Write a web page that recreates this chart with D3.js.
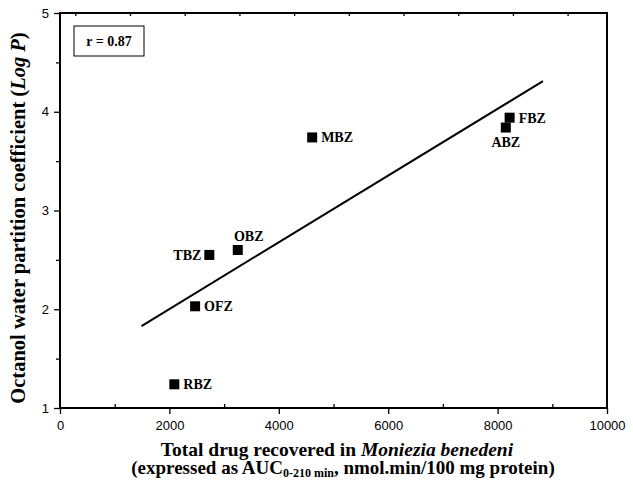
<!DOCTYPE html>
<html lang="en">
<head>
    <meta charset="UTF-8">
    <title>Log P vs drug recovered</title>

    <script src="https://d3js.org/d3.v7.min.js"></script>

    <style>
        body {
            margin: 0;
            background: #fff;
        }

        .tick text {
            font-family: "Liberation Sans", Arial, sans-serif;
            font-size: 13px;
            fill: #000;
        }

        .lbl, .title, .rbox {
            font-family: "Liberation Serif", "Times New Roman", serif;
            font-weight: bold;
            fill: #000;
        }
    </style>

    <script>

        const DRUGS = ["RBZ", "OFZ", "TBZ", "OBZ", "MBZ", "FBZ", "ABZ"];
        const RECOVERED = [2090, 2470, 2730, 3250, 4610, 8220, 8150];
        const LOG_P = [1.24, 2.03, 2.55, 2.60, 3.74, 3.94, 3.84];

        // regression line ends
        const FIT_X = [1490, 8830];
        const FIT_Y = [1.83, 4.31];

        const X_TICKS = [0, 2000, 4000, 6000, 8000, 10000];
        const X_MINOR = [1000, 3000, 5000, 7000, 9000];
        const Y_TICKS = [1, 2, 3, 4, 5];
        const Y_MINOR = [1.5, 2.5, 3.5, 4.5];
        const TOP_MARKS = [280, 1280, 2280, 3280, 4280, 5280, 6280, 7280, 8280, 9280];

        const R_TEXT = "r = 0.87";

        document.addEventListener("DOMContentLoaded", () => makeGraph());

        function makeGraph() {

            const width = 547;
            const height = 395;
            const margins = {top: 13, right: 26, left: 60, bottom: 73};

            // where each label sits next to its square
            const placement = {RBZ: "right", OFZ: "right", TBZ: "left", OBZ: "top", MBZ: "right", FBZ: "right", ABZ: "bottom"};

            let svg = d3.select("svg")
                .attr("width", width + margins.left + margins.right)
                .attr("height", height + margins.top + margins.bottom);

            const g = svg.append("g").attr("transform", "translate(" + margins.left + "," + margins.top + ")");

            const x = d3.scaleLinear().domain([0, 10000]).range([0, width]);
            const y = d3.scaleLinear().domain([1, 5]).range([height, 0]);

            // minor ticks
            g.append("g").attr("transform", "translate(0," + height + ")")
                .call(d3.axisBottom(x).tickValues(X_MINOR).tickSize(-4).tickFormat(""))
                .call(a => a.select(".domain").remove());
            g.append("g")
                .call(d3.axisLeft(y).tickValues(Y_MINOR).tickSize(4).tickFormat(""))
                .call(a => a.select(".domain").remove());
            g.append("g")
                .call(d3.axisTop(x).tickValues(TOP_MARKS).tickSize(-3).tickFormat(""))
                .call(a => a.select(".domain").remove());

            // major axes
            g.append("g").attr("transform", "translate(0," + height + ")")
                .call(d3.axisBottom(x).tickValues(X_TICKS).tickSize(6).tickPadding(7).tickFormat(d3.format("d")))
                .call(a => a.select(".domain").remove());
            g.append("g")
                .call(d3.axisLeft(y).tickValues(Y_TICKS).tickSize(6).tickPadding(5).tickFormat(d3.format("d")))
                .call(a => a.select(".domain").remove());

            g.selectAll(".tick line").attr("stroke", "#000").attr("stroke-width", 1.3);

            // frame
            g.append("rect")
                .attr("width", width).attr("height", height)
                .attr("fill", "none").attr("stroke", "#000").attr("stroke-width", 2);

            // regression line
            g.append("path")
                .datum(d3.zip(FIT_X, FIT_Y))
                .attr("fill", "none")
                .attr("stroke", "#000")
                .attr("stroke-width", 2)
                .attr("d", d3.line().x(d => x(d[0])).y(d => y(d[1])));

            const pts = DRUGS.map((name, i) => ({name: name, x: RECOVERED[i], y: LOG_P[i]}));
            const s = 10;

            g.selectAll("rect.pt").data(pts).enter().append("rect")
                .attr("class", "pt")
                .attr("x", d => x(d.x) - s / 2)
                .attr("y", d => y(d.y) - s / 2)
                .attr("width", s).attr("height", s)
                .attr("fill", "#000");

            g.selectAll("text.lbl").data(pts).enter().append("text")
                .attr("class", "lbl")
                .attr("font-size", 14)
                .attr("x", function(d) {
                    const p = placement[d.name];
                    if (p === "right") return x(d.x) + 9;
                    if (p === "left") return x(d.x) - 8;
                    return x(d.x) + (p === "top" ? 11 : 0);
                })
                .attr("y", function(d) {
                    const p = placement[d.name];
                    if (p === "top") return y(d.y) - 9;
                    if (p === "bottom") return y(d.y) + 19;
                    return y(d.y) + 5;
                })
                .attr("text-anchor", function(d) {
                    const p = placement[d.name];
                    return p === "right" ? "start" : p === "left" ? "end" : "middle";
                })
                .text(d => d.name);

            // r box
            g.append("rect")
                .attr("x", 14).attr("y", 13).attr("width", 70).attr("height", 30)
                .attr("fill", "#fff").attr("stroke", "#000").attr("stroke-width", 1);
            g.append("text")
                .attr("class", "rbox")
                .attr("x", 49).attr("y", 33)
                .attr("text-anchor", "middle")
                .attr("font-size", 14)
                .text(R_TEXT);

            // axis titles
            const t1 = svg.append("text")
                .attr("class", "title")
                .attr("x", 337)
                .attr("y", 456)
                .attr("text-anchor", "middle")
                .attr("font-size", 19.5);
            t1.append("tspan").text("Total drug recovered in ");
            t1.append("tspan").attr("font-style", "italic").text("Moniezia benedeni");

            const t2 = svg.append("text")
                .attr("class", "title")
                .attr("x", 343)
                .attr("y", 474)
                .attr("text-anchor", "middle")
                .attr("font-size", 19);
            t2.append("tspan").text("(expressed as AUC");
            t2.append("tspan").attr("font-size", 12).attr("dy", 3).text("0-210 min");
            t2.append("tspan").attr("dy", -3).text(", nmol.min/100 mg protein)");

            const t3 = svg.append("text")
                .attr("class", "title")
                .attr("transform", "translate(25,218) rotate(-90)")
                .attr("text-anchor", "middle")
                .attr("font-size", 20.5);
            t3.append("tspan").text("Octanol water partition coefficient (");
            t3.append("tspan").attr("font-style", "italic").text("Log P");
            t3.append("tspan").text(")");
        }

    </script>

</head>
<body>
    <svg id="graph"></svg>
</body>
</html>
